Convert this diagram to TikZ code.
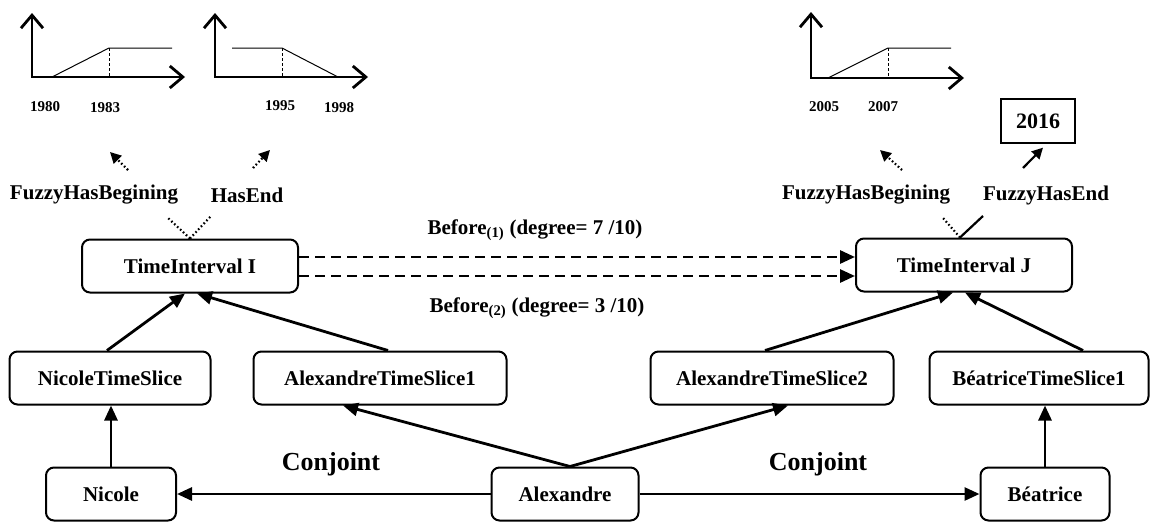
\documentclass[tikz,border=0pt]{standalone}
\usepackage{fontspec}
\setmainfont{Liberation Serif}
\usetikzlibrary{arrows.meta}
\begin{document}
\begin{tikzpicture}[x=1pt, y=-1pt, every node/.style={font=\fontsize{21}{24}\selectfont\bfseries},
  box/.style={draw, line width=2pt, rounded corners=8pt, minimum height=53pt, inner sep=0pt},
  link/.style={line width=2.8pt, -{Triangle[length=15pt,width=13pt]}},
  before/.style={link, dash pattern=on 10pt off 6pt},
  axis/.style={line width=2.8pt, {Straight Barb[length=13pt,width=22pt]}-{Straight Barb[length=13pt,width=22pt]}},
  fuzzy/.style={line width=2.2pt, dash pattern=on 1.6pt off 2.4pt},
  fuzzyarr/.style={fuzzy, -{Triangle[length=11pt,width=11pt]}},
  member/.style={line width=1pt},
  cut/.style={line width=0.8pt, dash pattern=on 3pt off 2pt},
  year/.style={font=\fontsize{15}{17}\selectfont\bfseries},
  rel/.style={font=\fontsize{26}{30}\selectfont\bfseries}]
  \useasboundingbox (0,0) rectangle (1151,522);
  % boxes
  \node[box, minimum width=216pt] (ti) at (190,266) {TimeInterval I};
  \node[box, minimum width=216pt] (tj) at (964,265) {TimeInterval J};
  \node[box, minimum width=201pt] (nts) at (110,378) {NicoleTimeSlice};
  \node[box, minimum width=253pt] (ats1) at (380,378) {AlexandreTimeSlice1};
  \node[box, minimum width=243pt] (ats2) at (772,378) {AlexandreTimeSlice2};
  \node[box, minimum width=219pt] (bts) at (1039,378) {BéatriceTimeSlice1};
  \node[box, minimum width=130pt] (nic) at (111,494) {Nicole};
  \node[box, minimum width=147pt] (ale) at (565,494) {Alexandre};
  \node[box, minimum width=129pt] (bea) at (1045,494) {Béatrice};
  \node[draw, line width=1.3pt, minimum width=74pt, minimum height=44pt, font=\fontsize{22}{26}\selectfont\bfseries] (yr) at (1038,121) {2016};
  % labels
  \node (b1) at (535,230) {Before\textsubscript{(1)} (degree= 7 /10)};
  \node (b2) at (537,308) {Before\textsubscript{(2)} (degree= 3 /10)};
  \node (fb1) at (94,195) {FuzzyHasBegining};
  \node (he) at (247,195) {HasEnd};
  \node (fb2) at (866,195) {FuzzyHasBegining};
  \node (fe) at (1046,195) {FuzzyHasEnd};
  \node[rel] (c1) at (331,464) {Conjoint};
  \node[rel] (c2) at (818,464) {Conjoint};
  % links
  \draw[link] (nic.north) -- (nic.north |- nts.south);
  \draw[link] (bea.north) -- (bea.north |- bts.south);
  \draw[link] ([xshift=-3pt]nts.north) -- ([xshift=-5pt]ti.south);
  \draw[link] ([xshift=8pt]ats1.north) -- ([xshift=7pt]ti.south);
  \draw[link] ([xshift=-7pt]ats2.north) -- ([xshift=-11pt]tj.south);
  \draw[link] ([xshift=44pt]bts.north) -- ([xshift=1pt]tj.south);
  \draw[link] ([xshift=5pt]ale.north) -- ([xshift=-37pt]ats1.south);
  \draw[link] ([xshift=5pt]ale.north) -- ([xshift=16pt]ats2.south);
  \draw[link] (ale.west) -- (nic.east);
  \draw[link] (ale.east) -- (bea.west);
  \draw[before] ([yshift=9pt]ti.east) -- ([yshift=9pt]ti.east -| tj.west);
  \draw[before] ([yshift=-10pt]ti.east) -- ([yshift=-10pt]ti.east -| tj.west);
  % fuzzy begin / end
  \coordinate (tib) at (168,218); \coordinate (tie) at (211,216);
  \coordinate (tjb) at (943,218); \coordinate (tje) at (983,216);
  \draw[fuzzy] (ti.north) -- (tib) (ti.north) -- (tie);
  \draw[fuzzy] ([xshift=-4pt]tj.north) -- (tjb);
  \draw[line width=2.2pt] ([xshift=-4pt]tj.north) -- (tje);
  \coordinate (g1) at (110,152); \coordinate (g2) at (270,150); \coordinate (g3) at (880,150);
  \draw[fuzzyarr] (128,170) -- (g1);
  \draw[fuzzyarr] (253,168) -- (g2);
  \draw[fuzzyarr] (902,170) -- (g3);
  \draw[line width=2.2pt, -{Triangle[length=11pt,width=11pt]}] (1023,168) -- ([xshift=5pt,yshift=-4pt]yr.south);
  % membership graphs
  \draw[axis] (32,13) -- (32,77) -- (185,77);
  \draw[member] (52,77) -- (109,48) -- (172,48);
  \draw[cut] (109,48) -- (109,77);
  \draw[axis] (215,13) -- (215,77) -- (368,77);
  \draw[member] (232,48) -- (282,48) -- (338,77);
  \draw[cut] (282,48) -- (282,77);
  \draw[axis] (811,12) -- (811,78) -- (964,78);
  \draw[member] (828,78) -- (888,48) -- (951,48);
  \draw[cut] (888,48) -- (888,78);
  \node[year] (y1980) at (45,107) {1980};
  \node[year] (y1983) at (105,108) {1983};
  \node[year] (y1995) at (280,106) {1995};
  \node[year] (y1998) at (339,108) {1998};
  \node[year] (y2005) at (824,107) {2005};
  \node[year] (y2007) at (883,107) {2007};
\end{tikzpicture}
\end{document}
